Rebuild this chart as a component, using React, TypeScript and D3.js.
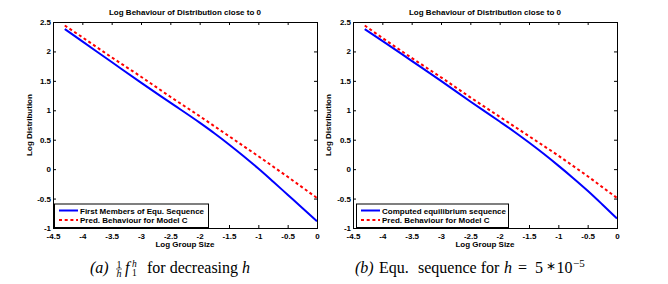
import { useEffect, useRef } from "react";
import * as d3 from "d3";

// log group size sample points (x)
const logSize = [-4.3, -4, -3.5, -3, -2.5, -2, -1.75, -1.5, -1.25, -1, -0.75, -0.5, -0.25, 0];
// panel (a)
const firstMembers = [2.38, 2.17, 1.82, 1.47, 1.13, 0.79, 0.61, 0.42, 0.22, 0.01, -0.21, -0.435, -0.66, -0.885];
const predA = [2.44, 2.24, 1.9, 1.57, 1.23, 0.9, 0.73, 0.56, 0.39, 0.22, 0.045, -0.13, -0.31, -0.49];
// panel (b)
const computedEq = [2.38, 2.18, 1.84, 1.5, 1.15, 0.81, 0.636, 0.452, 0.261, 0.06, -0.149, -0.367, -0.6, -0.84];
const predB = [2.44, 2.23, 1.89, 1.56, 1.22, 0.89, 0.725, 0.56, 0.395, 0.23, 0.055, -0.12, -0.305, -0.49];

const xTicks = [-4.5, -4, -3.5, -3, -2.5, -2, -1.5, -1, -0.5, 0];
const yTicks = [-1, -0.5, 0, 0.5, 1, 1.5, 2, 2.5];

const titleText = "Log Behaviour of Distribution close to 0";
const xLabel = "Log Group Size";
const yLabel = "Log Distribution";
const predLabel = "Pred. Behaviour for Model C";

const FONT = "'Liberation Sans', Arial, Helvetica, sans-serif";
const SERIF = "'Liberation Serif', 'Times New Roman', serif";

const top = 22;
const bottom = 228;

const Panel = ({
  left,
  right,
  blue,
  red,
  blueLabel,
  legendW,
  legendDx,
  ylabX,
}: {
  left: number;
  right: number;
  blue: number[];
  red: number[];
  blueLabel: string;
  legendW: number;
  legendDx: number;
  ylabX: number;
}) => {
  const gRef = useRef<SVGGElement | null>(null);

  const x = d3.scaleLinear().domain([-4.5, 0]).range([left, right]);
  const y = d3.scaleLinear().domain([-1, 2.5]).range([bottom, top]);

  const line = d3
    .line<number>()
    .x((_, i) => x(logSize[i]))
    .y((d) => y(d))
    .curve(d3.curveMonotoneX);

  useEffect(() => {
    const g = d3.select(gRef.current);
    g.selectAll("*").remove();
    const fmt = (d: d3.NumberValue) => String(d);

    g.append("g")
      .attr("transform", `translate(0,${bottom})`)
      .call(d3.axisBottom(x).tickValues(xTicks).tickFormat(fmt).tickSize(-3).tickSizeOuter(0).tickPadding(5));
    g.append("g")
      .attr("transform", `translate(0,${top})`)
      .call(d3.axisTop(x).tickValues(xTicks).tickFormat(() => "").tickSize(-3).tickSizeOuter(0));
    g.append("g")
      .attr("transform", `translate(${left},0)`)
      .call(d3.axisLeft(y).tickValues(yTicks).tickFormat(fmt).tickSize(-3).tickSizeOuter(0).tickPadding(2));
    g.append("g")
      .attr("transform", `translate(${right},0)`)
      .call(d3.axisRight(y).tickValues(yTicks).tickFormat(() => "").tickSize(-3).tickSizeOuter(0));

    g.selectAll(".domain").remove();
    g.selectAll("line").attr("stroke", "#000").attr("stroke-width", 1);
    g.selectAll("text")
      .attr("font-family", FONT)
      .attr("font-weight", "bold")
      .attr("font-size", 8)
      .attr("fill", "#000");
  }, [left, right]);

  const lx = left + legendDx;
  const ly = 203.5;

  return (
    <g>
      <rect x={left} y={top} width={right - left} height={bottom - top} fill="#fff" />
      <path d={line(blue) ?? ""} fill="none" stroke="#0000ff" strokeWidth={2} />
      <path
        d={line(red) ?? ""}
        fill="none"
        stroke="#ff0000"
        strokeWidth={2}
        strokeDasharray="3,2.7"
      />
      <g ref={gRef} />
      <rect
        x={left + 0.5}
        y={top + 0.5}
        width={right - left}
        height={bottom - top}
        fill="none"
        stroke="#000"
        strokeWidth={1}
      />
      <text
        x={(left + right) / 2}
        y={15}
        textAnchor="middle"
        fontFamily={FONT}
        fontWeight="bold"
        fontSize={8}
      >
        {titleText}
      </text>
      <text
        x={(left + right) / 2}
        y={247}
        textAnchor="middle"
        fontFamily={FONT}
        fontWeight="bold"
        fontSize={8}
      >
        {xLabel}
      </text>
      <text
        transform={`translate(${ylabX},${(top + bottom) / 2}) rotate(-90)`}
        textAnchor="middle"
        fontFamily={FONT}
        fontWeight="bold"
        fontSize={8}
      >
        {yLabel}
      </text>
      <g>
        <rect
          x={lx + 0.5}
          y={ly + 0.5}
          width={legendW}
          height={bottom - ly - 1}
          fill="#fff"
          stroke="#000"
          strokeWidth={1}
        />
        <line x1={lx + 5} x2={lx + 24} y1={ly + 7} y2={ly + 7} stroke="#0000ff" strokeWidth={2} />
        <line
          x1={lx + 5}
          x2={lx + 24}
          y1={ly + 16.5}
          y2={ly + 16.5}
          stroke="#ff0000"
          strokeWidth={2}
          strokeDasharray="3,2.7"
        />
        <text x={lx + 26} y={ly + 10} fontFamily={FONT} fontWeight="bold" fontSize={8}>
          {blueLabel}
        </text>
        <text x={lx + 26} y={ly + 19.5} fontFamily={FONT} fontWeight="bold" fontSize={8}>
          {predLabel}
        </text>
      </g>
    </g>
  );
};

const App = () => {
  return (
    <svg
      width={668}
      height={284}
      style={{ position: "absolute", left: 0, top: 0, background: "#fff" }}
    >
      <rect width={668} height={284} fill="#fff" />
      <Panel
        left={53}
        right={317}
        blue={firstMembers}
        red={predA}
        blueLabel="First Members of Equ. Sequence"
        legendW={154}
        legendDx={1}
        ylabX={32}
      />
      <Panel
        left={353}
        right={617}
        blue={computedEq}
        red={predB}
        blueLabel="Computed equilibrium sequence"
        legendW={152}
        legendDx={3}
        ylabX={331}
      />
      {/* caption (a) */}
      <g fontFamily={SERIF} fill="#000">
        <text x={90} y={272.5} fontSize={16} fontStyle="italic">(a)</text>
        <text x={119} y={267.5} fontSize={10} textAnchor="middle">1</text>
        <line x1={116} x2={122} y1={269} y2={269} stroke="#000" strokeWidth={0.6} />
        <text x={119} y={277} fontSize={10} fontStyle="italic" textAnchor="middle">h</text>
        <text x={125} y={272.5} fontSize={16} fontStyle="italic">f</text>
        <text x={132} y={266.5} fontSize={9.5} fontStyle="italic">h</text>
        <text x={132} y={276} fontSize={9.5}>1</text>
        <text x={147} y={272.5} fontSize={16}>for decreasing</text>
        <text x={242} y={272.5} fontSize={16} fontStyle="italic">h</text>
      </g>
      {/* caption (b) */}
      <g fontFamily={SERIF} fill="#000">
        <text x={355} y={272.5} fontSize={16} fontStyle="italic">(b)</text>
        <text x={379} y={272.5} fontSize={16}>Equ.</text>
        <text x={418} y={272.5} fontSize={16}>sequence for</text>
        <text x={504} y={272.5} fontSize={16} fontStyle="italic">h</text>
        <text x={518} y={272.5} fontSize={16}>=</text>
        <text x={535} y={272.5} fontSize={16}>5</text>
        <text x={546} y={270} fontSize={12}>∗</text>
        <text x={556.5} y={272.5} fontSize={16}>10</text>
        <text x={573} y={266.5} fontSize={11}>−5</text>
      </g>
    </svg>
  );
};

export default App;
